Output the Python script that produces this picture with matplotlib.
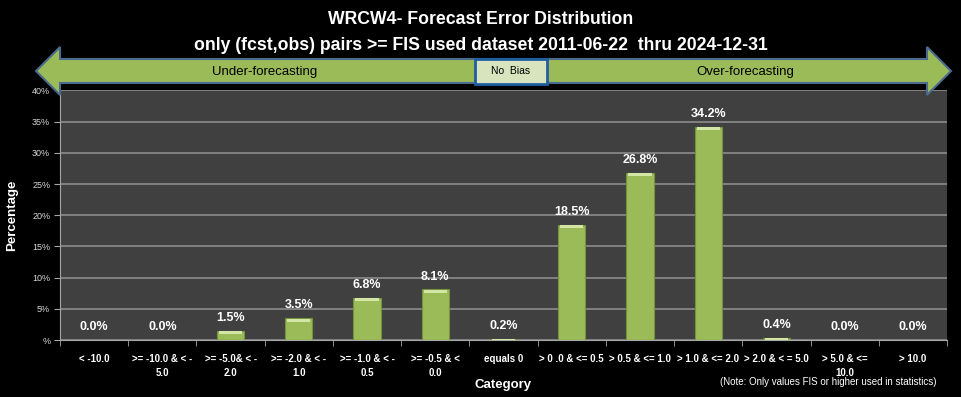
import numpy as np
import matplotlib
matplotlib.use("Agg")
import matplotlib.pyplot as plt
from matplotlib.patches import Polygon, Rectangle

categories = ["< -10.0", ">= -10.0 & < -\n5.0", ">= -5.0& < -\n2.0", ">= -2.0 & < -\n1.0",
              ">= -1.0 & < -\n0.5", ">= -0.5 & <\n0.0", "equals 0", "> 0 .0 & <= 0.5",
              "> 0.5 & <= 1.0", "> 1.0 & <= 2.0", "> 2.0 & < = 5.0", "> 5.0 & <=\n10.0", "> 10.0"]
percent = [0.0, 0.0, 1.5, 3.5, 6.8, 8.1, 0.2, 18.5, 26.8, 34.2, 0.4, 0.0, 0.0]
yticks = [0, 5, 10, 15, 20, 25, 30, 35, 40]
ytick_labels = ["%", "5%", "10%", "15%", "20%", "25%", "30%", "35%", "40%"]

plt.rcParams['font.family'] = ['Liberation Sans', 'DejaVu Sans']

W, H = 961, 397
fig = plt.figure(figsize=(W / 100, H / 100), dpi=100, facecolor="black")
ax = fig.add_axes([60 / W, 1 - 340 / H, (947 - 60) / W, (340 - 90.5) / H])
ax.set_facecolor("#404040")

x = np.arange(len(categories))
green = "#9BBB59"
ax.bar(x, percent, width=0.4, color=green, edgecolor="#76923C", linewidth=0.8, zorder=3)
# light bevel on top of bars
ax.bar(x, [min(p, 0.45) for p in percent], bottom=[max(p - 0.55, 0) for p in percent],
       width=0.34, color="#D4E6A5", linewidth=0, zorder=4)

for xi, p in zip(x, percent):
    ax.text(xi, p + 1.1, f"{p:.1f}%", ha="center", va="bottom", color="white",
            fontsize=9, fontweight="bold", zorder=5)

ax.set_xlim(-0.5, len(categories) - 0.5)
ax.set_ylim(0, 40)
ax.set_yticks(yticks)
ax.set_yticklabels(ytick_labels, color="#D9D9D9", fontsize=6.5)
ax.yaxis.grid(True, color="#8C8C8C", linewidth=1.2, zorder=0)
ax.set_axisbelow(True)

ax.set_xticks(x)
ax.set_xticklabels(categories, color="white", fontsize=7, fontweight="bold", linespacing=1.5)
ax.set_xticks(np.arange(len(categories) + 1) - 0.5, minor=True)
ax.tick_params(axis="x", which="major", length=0, pad=10)
ax.tick_params(axis="x", which="minor", length=4, color="#A6A6A6", direction="out")
ax.tick_params(axis="y", length=4, color="#A6A6A6", direction="out", pad=3)
for s in ["top", "right"]:
    ax.spines[s].set_visible(False)
ax.spines["left"].set_color("#A6A6A6")
ax.spines["bottom"].set_color("#A6A6A6")

ax.set_ylabel("Percentage", color="white", fontsize=9.5, fontweight="bold", labelpad=10)
ax.set_xlabel("Category", color="white", fontsize=9.5, fontweight="bold", labelpad=1)

fig.text(0.5, 1 - 20 / H, "WRCW4- Forecast Error Distribution", ha="center", va="center",
         color="white", fontsize=12.7, fontweight="bold")
fig.text(0.5, 1 - 46 / H, "only (fcst,obs) pairs >= FIS used dataset 2011-06-22  thru 2024-12-31",
         ha="center", va="center", color="white", fontsize=12.7, fontweight="bold")
fig.text(937 / W, 1 - 382 / H, "(Note: Only values FIS or higher used in statistics)",
         ha="right", va="center", color="white", fontsize=7)

# double-headed arrow banner (pixel coords -> figure fraction)
pts = [(36, 71), (60, 47), (60, 59), (927, 59), (927, 47), (951, 71),
       (927, 95), (927, 83), (60, 83), (60, 95)]
arrow = Polygon([(px / W, 1 - py / H) for px, py in pts], closed=True,
                facecolor=green, edgecolor="#4A6A8E", linewidth=1.5,
                transform=fig.transFigure, zorder=6)
fig.add_artist(arrow)
box = Rectangle((475 / W, 1 - 83.5 / H), 72 / W, 24.5 / H, facecolor="#D7E4BD",
                edgecolor="#1F5FA0", linewidth=2, transform=fig.transFigure, zorder=7)
fig.add_artist(box)
fig.text(265 / W, 1 - 72 / H, "Under-forecasting", ha="center", va="center",
         color="black", fontsize=9.5, zorder=8)
fig.text(745 / W, 1 - 72 / H, "Over-forecasting", ha="center", va="center",
         color="black", fontsize=9.5, zorder=8)
fig.text(511 / W, 1 - 71.5 / H, "No  Bias", ha="center", va="center",
         color="black", fontsize=7.5, zorder=8)

fig.savefig("out.png", dpi=100, facecolor="black")
